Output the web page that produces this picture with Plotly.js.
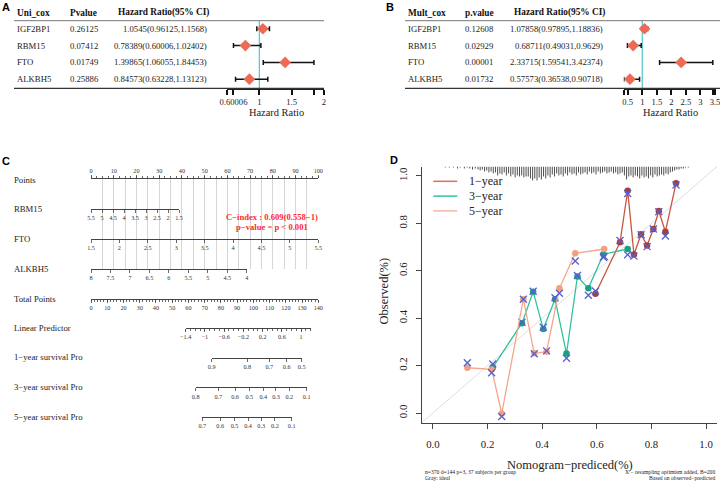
<!DOCTYPE html>
<html><head><meta charset="utf-8">
<script src="https://cdn.plot.ly/plotly-3.0.1.min.js"></script>
<style>html,body{margin:0;padding:0;background:#fff}#chart{width:720px;height:484px}</style>
</head><body><div id="chart"></div>
<script>
// ================= DATA =================
// Panels A / B : Cox regression tables
const genes  = ['IGF2BP1','RBM15','FTO','ALKBH5'];
const uniP   = ['0.26125','0.07412','0.01749','0.25886'];
const uniHR  = [1.0545, 0.78389, 1.39865, 0.84573];
const uniLo  = [0.96125, 0.60006, 1.06055, 0.63228];
const uniHi  = [1.1568, 1.02402, 1.84453, 1.13123];
const multP  = ['0.12608','0.02929','0.00001','0.01732'];
const multHR = [1.07858, 0.68711, 2.33715, 0.57573];
const multLo = [0.97895, 0.49031, 1.59541, 0.36538];
const multHi = [1.18836, 0.9629, 3.42374, 0.90718];
const uniTicks     = [0.5, 0.60006, 1, 1.5, 1.84453, 2];
const uniTickText  = ['', '0.60006', '1', '1.5', '', '2'];
const multTicks    = [0.36538, 0.5, 1, 1.5, 2, 2.5, 3, 3.42374, 3.5];
const multTickText = ['', '0.5', '1', '1.5', '2', '2.5', '3', '', '3.5'];

// Panel C : nomogram scales
const pointsTicks = [0,10,20,30,40,50,60,70,80,90,100];
const rbm15Ticks  = [5.5,5,4.5,4,3.5,3,2.5,2,1.5];
const ftoTicks    = [1.5,2,2.5,3,3.5,4,4.5,5,5.5];
const alkbh5Ticks = [8,7.5,7,6.5,6,5.5,5,4.5,4];
const totalTicks  = [0,10,20,30,40,50,60,70,80,90,100,110,120,130,140];
const lpTicks     = [-1.4,-1,-0.6,-0.2,0.2,0.6,1];
const lpRange     = [-1.4, 1.2];
const surv1Prob = ['0.9','0.8','0.7','0.6','0.5'];
const surv1LP   = [-0.858,-0.117,0.342,0.704,1.017];
const surv3Prob = ['0.8','0.7','0.6','0.5','0.4','0.3','0.2','0.1'];
const surv3LP   = [-1.192,-0.721,-0.373,-0.075,0.217,0.481,0.758,1.121];
const surv5Prob = ['0.7','0.6','0.5','0.4','0.3','0.2','0.1'];
const surv5LP   = [-1.054,-0.685,-0.387,-0.108,0.163,0.446,0.794];
const cIndexText = 'C−index : 0.609(0.558−1)';
const pValueText = 'p−value = p < 0.001';

// Panel D : calibration curves
const cal1X = [0.595,0.685,0.713,0.736,0.762,0.784,0.807,0.827,0.851,0.890];
const cal1Y = [0.503,0.720,0.938,0.669,0.754,0.707,0.776,0.852,0.765,0.969];
const cal1C = [0.515,0.728,0.926,0.662,0.752,0.702,0.776,0.849,0.747,0.962];
const cal3X = [0.219,0.326,0.367,0.404,0.447,0.489,0.529,0.569,0.624,0.713];
const cal3Y = [0.193,0.379,0.512,0.354,0.480,0.251,0.576,0.526,0.670,0.692];
const cal3C = [0.207,0.383,0.514,0.362,0.486,0.231,0.580,0.497,0.657,0.668];
const cal5X = [0.126,0.215,0.252,0.331,0.371,0.416,0.463,0.521,0.627];
const cal5Y = [0.191,0.184,-0.002,0.480,0.252,0.259,0.526,0.674,0.692];
const cal5C = [0.212,0.170,-0.015,0.480,0.250,0.262,0.505,0.641,0.660];
const dTicks    = [0,0.2,0.4,0.6,0.8,1];
const dTickText = ['0.0','0.2','0.4','0.6','0.8','1.0'];
// distribution of predicted risk (spike histogram at top)
const riskX = [0.045,0.06,0.075,0.09,0.10,0.115,0.125,0.135,0.145,0.155,
 0.165,0.173,0.181,0.189,0.197,0.205,0.213,0.221,0.229,0.237,
 0.245,0.253,0.261,0.269,0.277,0.285,0.293,0.301,0.309,0.317,
 0.325,0.333,0.341,0.349,0.357,0.365,0.373,0.381,0.389,0.397,
 0.405,0.413,0.421,0.429,0.437,0.445,0.453,0.461,0.469,0.477,
 0.485,0.493,0.501,0.509,0.517,0.525,0.533,0.541,0.549,0.557,
 0.565,0.573,0.581,0.589,0.597,0.605,0.613,0.621,0.629,0.637,
 0.645,0.653,0.661,0.669,0.677,0.685,0.693,0.701,0.709,0.717,
 0.725,0.733,0.741,0.749,0.757,0.765,0.773,0.781,0.789,0.797,
 0.805,0.813,0.821,0.829,0.837,0.845,0.853,0.861,0.869,0.877,
 0.885,0.893,0.901,0.909,0.917,0.925,0.935];
const riskN = [1,1,1,2,1,2,1,2,3,2,
 3,4,3,5,4,6,5,7,6,9,
 7,8,6,9,7,10,8,11,9,10,
 9,11,10,10,12,14,12,14,11,13,
 10,12,9,11,8,10,7,9,8,10,
 7,9,6,8,7,9,6,8,7,6,
 8,5,7,6,8,5,7,6,5,7,
 6,5,7,6,8,7,6,9,13,10,
 9,11,9,10,12,9,11,10,12,9,
 11,8,10,9,8,9,7,8,6,5,
 4,3,3,2,2,1,1];

// ================= HELPERS / STYLE =================
const W = 720, H = 484;
const SERIF = 'Liberation Serif, Times New Roman, serif';
const SANS = 'Liberation Sans, Arial, sans-serif';
const X = v => v / W;
const Y = v => 1 - v / H;
const fmt = v => String(v).replace('-', '−');
function seq(a, b, s) { const o = []; for (let v = a; v <= b + 1e-9; v += s) o.push(Math.round(v * 1000) / 1000); return o; }

const traces = [], annotations = [], shapes = [];
const layout = {
  width: W, height: H, margin: {l:0, r:0, t:0, b:0},
  paper_bgcolor: '#fff', plot_bgcolor: 'rgba(0,0,0,0)',
  showlegend: false, font: {family: SERIF, color: '#222'},
  annotations, shapes
};
function txt(x, y, text, o) {
  o = o || {};
  annotations.push(Object.assign({xref:'paper', yref:'paper', x:X(x), y:Y(y), text, showarrow:false,
    xanchor:'left', yanchor:'middle', font:{family:SERIF, size:8.7, color:'#222'}}, o));
}
function hline(x0, x1, y, color, w) {
  shapes.push({type:'line', xref:'paper', yref:'paper', x0:X(x0), x1:X(x1), y0:Y(y), y1:Y(y), line:{color, width:w}});
}

// ================= PANELS A & B =================
function forest(o) {
  const cats = genes.slice().reverse();
  layout[o.xName] = {domain:[X(o.dom[0]), X(o.dom[1])], range:o.range, anchor:o.ya,
    showline:true, linecolor:'#222', linewidth:1.2, ticks:'outside', ticklen:5, tickwidth:2, tickcolor:'#111',
    tickmode:'array', tickvals:o.ticks, ticktext:o.tickText, tickfont:{family:SERIF, size:8.6, color:'#222'},
    ticklabelstandoff:0, ticklabeloverflow:'allow', showgrid:false, zeroline:false, fixedrange:true};
  layout[o.yName] = {domain:[Y(88.3), Y(20.7)], type:'category', categoryarray:cats, range:[-0.54, 3.48],
    anchor:o.xa, visible:false, fixedrange:true};
  shapes.push({type:'line', xref:o.xa, yref:o.ya + ' domain', x0:1, x1:1, y0:0, y1:1, layer:'below',
    line:{color:'#55C3CC', width:1.2}});
  traces.push({type:'scatter', mode:'markers', xaxis:o.xa, yaxis:o.ya, x:o.hr, y:genes, cliponaxis:false,
    hoverinfo:'skip',
    error_x:{type:'data', symmetric:false, array:o.hr.map((v,i)=>o.hi[i]-v), arrayminus:o.hr.map((v,i)=>v-o.lo[i]),
      color:'#111', thickness:1.5, width:2.5},
    marker:{symbol:'diamond', size:9, color:'#EE6A55'}});
  // table
  hline(o.ruleL, o.ruleR, 20.7, '#777', 1);
  hline(o.ruleL, o.ruleR, 88.3, '#333', 1.3);
  const hf = {family:SERIF, size:9.3, color:'#111', weight:'bold'};
  txt(o.c1, 13, '<b>' + o.h1 + '</b>', {font:hf});
  txt(o.c2, 13, '<b>' + o.h2 + '</b>', {font:hf});
  txt(o.c3h, 13, '<b>Hazard Ratio(95% CI)</b>', {font:hf});
  genes.forEach((g, i) => {
    const base = {yref:o.ya, y:3 - i};
    txt(o.c1, 0, g, base);
    txt(o.c2, 0, o.p[i], base);
    txt(o.c3r, 0, o.hr[i] + '(' + o.lo[i] + ',' + o.hi[i] + ')', Object.assign({xanchor:'right'}, base));
  });
  txt(o.titleX, 112, 'Hazard Ratio', {xanchor:'center', font:{family:SERIF, size:10.4, color:'#222'}});
  txt(o.letterX, 6.5, '<b>' + o.letter + '</b>', {font:{family:SANS, size:11, color:'#000'}});
}
forest({xName:'xaxis', yName:'yaxis', xa:'x', ya:'y', dom:[227, 324], range:[0.5, 2],
  ticks:uniTicks, tickText:uniTickText, hr:uniHR, lo:uniLo, hi:uniHi, p:uniP,
  ruleL:14, ruleR:324, c1:15, c2:68, c3h:115.5, c3r:208.5, h1:'Uni_cox', h2:'Pvalue',
  titleX:276, letter:'A', letterX:0});
forest({xName:'xaxis2', yName:'yaxis2', xa:'x2', ya:'y2', dom:[623.8, 715.6], range:[0.36538, 3.52],
  ticks:multTicks, tickText:multTickText, hr:multHR, lo:multLo, hi:multHi, p:multP,
  ruleL:405, ruleR:720, c1:405.5, c2:463, c3h:512, c3r:605.3, h1:'Mult_cox', h2:'p.value',
  titleX:670.5, letter:'B', letterX:384});

// ================= PANEL C : nomogram =================
const nomoFont = {family:SERIF, size:6.2, color:'#333'};
const axBase = {showline:true, linecolor:'#444', linewidth:1, ticks:'outside', ticklen:3, tickwidth:0.8,
  tickcolor:'#444', tickfont:nomoFont, showgrid:false, zeroline:false, fixedrange:true, tickmode:'array',
  ticklabelstandoff:0, ticklabeloverflow:'allow'};
layout.yaxis3 = {domain:[Y(269), Y(179.3)], range:[0, 1], anchor:'x3', visible:false, fixedrange:true};
const pointsGrid = seq(0, 100, 5);
layout.xaxis3 = Object.assign({}, axBase, {domain:[X(91), X(318.3)], range:[pointsTicks[0], pointsTicks[pointsTicks.length-1]],
  anchor:'y3', side:'top', tickvals:pointsGrid, ticktext:pointsGrid.map(v => pointsTicks.includes(v) ? String(v) : ''),
  showgrid:true, gridcolor:'#d6d6d6', gridwidth:1,
  minor:{tickmode:'array', tickvals:seq(0, 100, 2.5), ticks:'outside', ticklen:2, tickcolor:'#444', showgrid:false}});
traces.push({type:'scatter', mode:'markers', xaxis:'x3', yaxis:'y3', x:pointsTicks, y:pointsTicks.map(()=>0.5),
  marker:{opacity:0}, hoverinfo:'skip'});

const rows = [
  {id:4, ticks:rbm15Ticks, text:rbm15Ticks.map(fmt), range:[rbm15Ticks[0], rbm15Ticks[rbm15Ticks.length-1]], dom:[91,179], row:209},
  {id:5, ticks:ftoTicks, text:ftoTicks.map(fmt), range:[ftoTicks[0], ftoTicks[ftoTicks.length-1]], dom:[91,318.3], row:239},
  {id:6, ticks:alkbh5Ticks, text:alkbh5Ticks.map(fmt), range:[alkbh5Ticks[0], alkbh5Ticks[alkbh5Ticks.length-1]], dom:[91,246.7], row:269},
  {id:7, ticks:totalTicks, text:totalTicks.map(fmt), range:[totalTicks[0], totalTicks[totalTicks.length-1]], dom:[91,318.3], row:298.5, minor:seq(0,140,2)},
  {id:8, ticks:lpTicks, text:lpTicks.map(fmt), range:lpRange, dom:[185.7,310.7], row:328, minor:seq(-1.4,1.2,0.1)},
  {id:9, ticks:surv1LP, text:surv1Prob, range:[surv1LP[0], surv1LP[surv1LP.length-1]], dom:[211.7,301.7], row:357.5},
  {id:10, ticks:surv3LP, text:surv3Prob, range:[surv3LP[0], surv3LP[surv3LP.length-1]], dom:[195.7,306.7], row:387.3},
  {id:11, ticks:surv5LP, text:surv5Prob, range:[surv5LP[0], surv5LP[surv5LP.length-1]], dom:[202.3,291.7], row:416.7}
];
rows.forEach(r => {
  const ax = Object.assign({}, axBase, {domain:[X(r.dom[0]), X(r.dom[1])], range:r.range, anchor:'free',
    position:Y(r.row), side:'bottom', tickvals:r.ticks, ticktext:r.text});
  if (r.minor) ax.minor = {tickmode:'array', tickvals:r.minor, ticks:'outside', ticklen:2, tickcolor:'#444', showgrid:false};
  layout['xaxis' + r.id] = ax;
  traces.push({type:'scatter', mode:'markers', xaxis:'x' + r.id, yaxis:'y3', x:r.ticks, y:r.ticks.map(()=>0.5),
    marker:{opacity:0}, hoverinfo:'skip'});
});
const nomoLabels = ['Points','RBM15','FTO','ALKBH5','Total Points','Linear Predictor',
  '1−year survival Pro','3−year survival Pro','5−year survival Pro'];
const nomoLabelRows = [180,209.3,239,269,299,328.3,357.3,387.3,416.7];
nomoLabels.forEach((t, i) => txt(12.3, nomoLabelRows[i], t, {font:{family:SERIF, size:8.7, color:'#222'}}));
txt(271.7, 216.7, '<b>' + cIndexText + '</b>', {xanchor:'center', font:{family:SERIF, size:8.6, color:'#FF2B2B'}});
txt(271.7, 226.7, '<b>' + pValueText + '</b>', {xanchor:'center', font:{family:SERIF, size:8.6, color:'#FF2B2B'}});
txt(0, 161, '<b>C</b>', {font:{family:SANS, size:11, color:'#000'}});

// ================= PANEL D : calibration =================
const dAx = {showline:true, linecolor:'#444', linewidth:1.3, ticks:'outside', ticklen:5, tickwidth:1, tickcolor:'#444',
  tickmode:'array', tickvals:dTicks, ticktext:dTickText, tickfont:{family:SERIF, size:10.8, color:'#222'},
  showgrid:false, zeroline:false, fixedrange:true, range:[-0.04, 1.04], ticklabeloverflow:'allow'};
layout.xaxis12 = Object.assign({}, dAx, {domain:[X(422), X(717)], anchor:'y12', ticklabelstandoff:6});
layout.yaxis12 = Object.assign({}, dAx, {domain:[Y(422.5), Y(166.5)], anchor:'x12', tickangle:-90, ticklabelstandoff:4});
shapes.push({type:'line', xref:'x12 domain', yref:'y12 domain', x0:0, y0:0, x1:1, y1:1, layer:'below',
  line:{color:'#DEDEDE', width:1}});
// spike histogram of predicted risk
const spikeLen = 0.0042, spikeTop = 1.04;
const sx = [], sy = [];
riskX.forEach((v, i) => { sx.push(v, v, null); sy.push(spikeTop, spikeTop - riskN[i] * spikeLen, null); });
traces.push({type:'scatter', mode:'lines', xaxis:'x12', yaxis:'y12', x:sx, y:sy, cliponaxis:false,
  line:{color:'#3a3a3a', width:0.9}, hoverinfo:'skip'});
const years = [
  {name:'1−year', x:cal1X, y:cal1Y, c:cal1C, line:'#C9553F', pt:'#A83E38', leg:'#E0705A'},
  {name:'3−year', x:cal3X, y:cal3Y, c:cal3C, line:'#34C09E', pt:'#17A083', leg:'#2CC4A2'},
  {name:'5−year', x:cal5X, y:cal5Y, c:cal5C, line:'#F5A68A', pt:'#F4A080', leg:'#F8B7A4'}
];
years.forEach(s => {
  traces.push({type:'scatter', mode:'lines+markers', xaxis:'x12', yaxis:'y12', x:s.x, y:s.y, name:s.name,
    cliponaxis:false, line:{color:s.line, width:1.3}, marker:{color:s.pt, size:6.5}, hoverinfo:'skip'});
  traces.push({type:'scatter', mode:'markers', xaxis:'x12', yaxis:'y12', x:s.x, y:s.c, cliponaxis:false,
    marker:{symbol:'x-thin-open', size:7, color:'#5560D0', line:{color:'#5560D0', width:1.3}}, hoverinfo:'skip'});
});
// legend
years.forEach((s, i) => {
  const yy = 181.3 + i * 14.8;
  hline(433.3, 457.3, yy, s.leg, 1.5);
  txt(467.3, yy, s.name, {font:{family:SERIF, size:12, color:'#222'}});
});
txt(383.5, 291, 'Observed(%)', {xanchor:'center', textangle:-90, font:{family:SERIF, size:12.5, color:'#222'}});
txt(569.5, 465, 'Nomogram−prediced(%)', {xanchor:'center', font:{family:SERIF, size:12.5, color:'#222'}});
const small = {family:SERIF, size:5.6, color:'#222'};
txt(423, 471.5, 'n=370 d=144 p=3, 37 subjects per group', {font:small});
txt(423, 478, 'Gray: ideal', {font:small});
txt(716.7, 471.5, 'X − resampling optimism added, B=200', {xanchor:'right', font:small});
txt(716.7, 478, 'Based on observed−predicted', {xanchor:'right', font:small});
txt(387.5, 160, '<b>D</b>', {font:{family:SANS, size:11, color:'#000'}});

Plotly.newPlot('chart', traces, layout, {staticPlot:true, displayModeBar:false});
</script></body></html>
